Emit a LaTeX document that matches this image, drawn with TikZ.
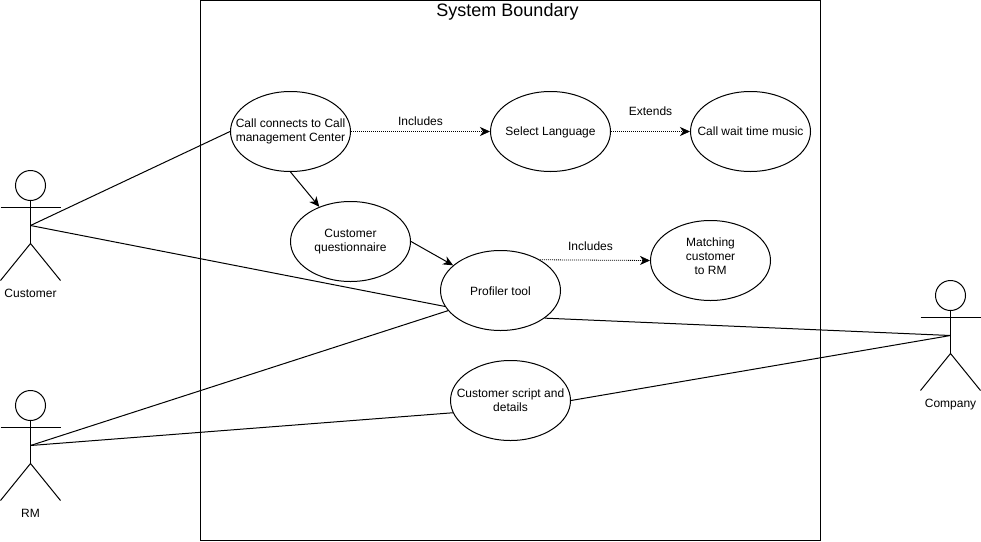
\documentclass[tikz,border=0pt]{standalone}
\usepackage{fontspec}
\setmainfont{Liberation Sans}
\usetikzlibrary{shapes.geometric,arrows.meta}
\tikzset{
	usecase/.style={ellipse,draw,inner sep=0pt,minimum width=120pt,minimum height=80pt},
	every label/.style={align=center,font=\fontsize{12}{14}\selectfont,inner sep=0pt},
	tag/.style={font=\fontsize{12}{14}\selectfont,inner sep=0pt},
	assoc/.style={draw=black,line width=1pt},
	flow/.style={assoc,-{Stealth[length=10pt,width=9pt,inset=3pt]}},
	linked/.style={draw=black,line width=.8pt,dash pattern=on 1pt off 1pt,-{Stealth[length=10pt,width=9pt,inset=3pt]}},
}
\begin{document}
\begin{tikzpicture}[x=1pt,y=-1pt,line width=1pt]
	\useasboundingbox (0,0) rectangle (981,541);
	\node [draw,inner sep=0pt,minimum width=620pt,minimum height=540pt] (boundary) at (510.5,270.5) {};
	\node [tag,font=\fontsize{18}{20}\selectfont,anchor=base] (title) at (507.5,16) {System Boundary};

	\node [usecase,label={center:Call connects to Call\\management Center}] (callcenter) at (290.5,131.5) {};
	\node [usecase,label={[yshift=-1pt]center:Select Language}] (language) at (550.5,131.5) {};
	\node [usecase,label={center:Call wait time music}] (music) at (750.5,131.5) {};
	\node [usecase,label={center:Customer\\questionnaire}] (questions) at (350.5,241.5) {};
	\node [usecase,label={[yshift=-.5pt]center:Profiler tool}] (profiler) at (500.5,290.5) {};
	\node [usecase,label={[yshift=4pt]center:Matching\\customer\\to RM}] (matching) at (710.5,260.5) {};
	\node [usecase,label={center:Customer script and\\details}] (script) at (510.5,400.5) {};

	% actors, the named coordinate is the hip
	\foreach \who/\xpos/\ypos/\lab in {customer/30.5/225.5/Customer,rm/30.5/445.5/RM,company/950.5/335.5/Company}{
		\coordinate (\who) at (\xpos,\ypos);
		\node [circle,draw,inner sep=0pt,minimum size=30pt] (\who head) at (\xpos,\ypos-40) {};
		\draw [assoc] (\who head) -- (\who);
		\draw [assoc] (\xpos-30,\ypos-18) -- (\xpos+30,\ypos-18);
		\draw [assoc] (\xpos-30,\ypos+55) -- (\xpos,\ypos+18) -- (\xpos+30,\ypos+55);
		\draw [assoc] (\who) -- (\xpos,\ypos+18);
		\node [tag,anchor=base] (\who label) at (\xpos,\ypos+72) {\lab};
	}

	\draw [assoc] (customer) -- (callcenter.west);
	\draw [assoc] (customer) -- (profiler.196);
	\draw [assoc] (rm) -- (profiler.201);
	\draw [assoc] (rm) -- (script.192);
	\draw [assoc] (company) -- (profiler.328);
	\draw [assoc] (company) -- (script.east);

	\draw [flow] (callcenter.south) -- (questions.132);
	\draw [flow] (questions.east) -- (profiler.152);

	\draw [linked] (callcenter.east) -- (language.west);
	\draw [linked] (language.east) -- (music.west);
	\draw [linked] (profiler.38.5) -- (matching.west);

	\node [tag] (includes1) at (420.5,121) {Includes};
	\node [tag] (extends) at (650.5,111) {Extends};
	\node [tag] (includes2) at (590.5,246) {Includes};
\end{tikzpicture}
\end{document}
